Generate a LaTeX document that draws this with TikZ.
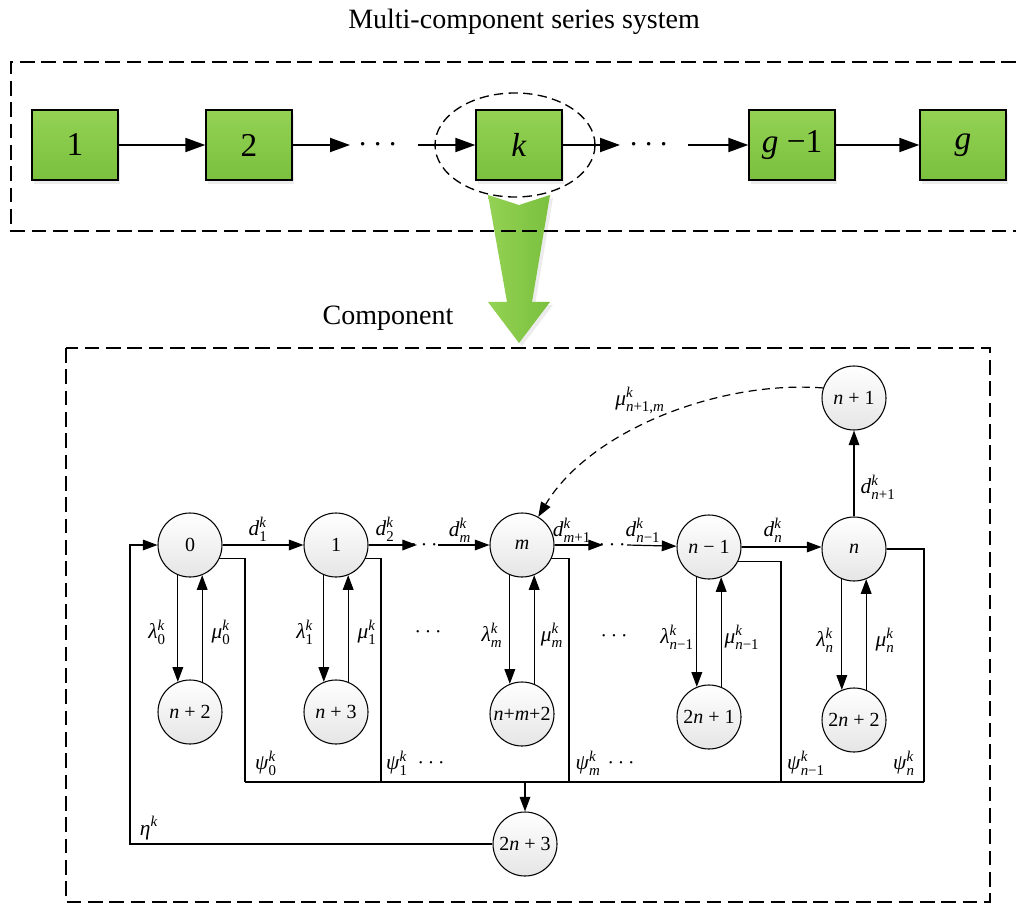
\documentclass[tikz,border=0pt]{standalone}
\usepackage{amsmath}
\usepackage{fontspec}
\setmainfont{Liberation Serif}
\usetikzlibrary{arrows.meta}

% rate label: italic symbol with superscript and subscript
\newcommand{\vlab}[3]{\textit{#1}$^{\text{\textit{#2}}}_{\text{#3}}$}

\definecolor{grtop}{RGB}{148,210,84}
\definecolor{grbot}{RGB}{122,192,62}

\begin{document}
\begin{tikzpicture}[x=0.75pt,y=-0.75pt,
  block/.style={draw,line width=1pt,minimum width=64.5pt,minimum height=52.5pt,
    top color=grtop,bottom color=grbot,font=\fontsize{25}{28}\selectfont},
  state/.style={circle,draw,line width=0.8pt,minimum size=48pt,inner sep=0pt,
    top color=white,bottom color=gray!20,font=\fontsize{15}{18}\selectfont},
  flow/.style={line width=1.5pt,-{Triangle[length=15pt,width=10.5pt]}},
  link/.style={line width=0.9pt},
  arr/.style={link,-{Triangle[length=11pt,width=8pt]}},
  lab/.style={font=\fontsize{16}{18}\selectfont,inner sep=0pt},
  title/.style={font=\fontsize{21}{24}\selectfont},
  frame/.style={line width=1.1pt,dash pattern=on 11pt off 5pt}
]
\useasboundingbox (0,0) rectangle (1016,905);

% ---------- headings ----------
\node[title] (ttl) at (524,22) {Multi-component series system};
\node[title] (comp) at (388,318) {Component};

% ---------- big green arrow ----------
\fill[gray!15] (491,198) -- (522,208) -- (553,198) -- (535,305) -- (553,305)
  -- (522,346) -- (491,305) -- (510,305) -- cycle;
\shade[left color=grtop,right color=grbot]
  (488,195) -- (519,205) -- (550,195) -- (532,302) -- (550,302)
  -- (519,343) -- (488,302) -- (507,302) -- cycle;

% ---------- series system ----------
\foreach \x in {75,249,519,792,963}
  \fill[gray!15] (\x-41,114) rectangle (\x+45,184);
\node[block] (b1) at (75,145) {1};
\node[block] (b2) at (249,145) {2};
\node[block] (bk) at (519,145) {\textit{k}};
\node[block] (bg1) at (792,145) {\textit{g} −1};
\node[block] (bg) at (963,145) {\textit{g}};

\coordinate (t1) at (350,145);
\node[font=\fontsize{24}{28}\selectfont] (dt1) at (381,145) {$\cdots$};
\coordinate (t2) at (418,145);
\coordinate (t3) at (620,145);
\node[font=\fontsize{24}{28}\selectfont] (dt2) at (652,145) {$\cdots$};
\coordinate (t4) at (688,145);

\draw[flow] (b1) -- (b2);
\draw[flow] (b2) -- (t1);
\draw[flow] (t2) -- (bk);
\draw[flow] (bk) -- (t3);
\draw[flow] (t4) -- (bg1);
\draw[flow] (bg1) -- (bg);

\draw[line width=1pt,dash pattern=on 7pt off 4pt] (515,145) ellipse [x radius=80,y radius=52];

% frames
\draw[frame] (1016,62) -- (11,62) -- (11,231) -- (1016,231);
\draw[frame] (66,348) rectangle (990,902);

% ---------- component states ----------
\node[state] (s0)  at (190,545) {0};
\node[state] (s1)  at (336,545) {1};
\node[state] (sm)  at (522,545) {\textit{m}};
\node[state] (sn1) at (709,547) {\textit{n} − 1};
\node[state] (sn)  at (854,549) {\textit{n}};
\node[state] (snp) at (854,398) {\textit{n} + 1};

\node[state] (f0)  at (190,712) {\textit{n} + 2};
\node[state] (f1)  at (336,712) {\textit{n} + 3};
\node[state] (fm)  at (522,714) {\textit{n}+\textit{m}+2};
\node[state] (fn1) at (709,717) {2\textit{n} + 1};
\node[state] (fn)  at (854,720) {2\textit{n} + 2};
\node[state] (sf)  at (525,844) {2\textit{n} + 3};

% degradation chain
\coordinate (r1) at (417,545);
\node[lab] (rd1) at (426,545) {$\cdots$};
\coordinate (r2) at (438,545);
\coordinate (r3) at (603,545);
\node[lab] (rd2) at (614,545) {$\cdots$};
\coordinate (r4) at (627,545);

\draw[arr] (s0) -- (s1);
\draw[arr] (s1) -- (r1);
\draw[arr] (r2) -- (sm);
\draw[arr] (sm) -- (r3);
\draw[arr] (r4) -- (sn1);
\draw[arr] (sn1.east) -- (sn1.east -| sn.west);
\draw[arr] (sn) -- (snp);

\node[lab] at (258,529) {\vlab{d}{k}{1}};
\node[lab] at (385,529) {\vlab{d}{k}{2}};
\node[lab] at (460,530) {\vlab{d}{k}{\textit{m}}};
\node[lab] at (572,530) {\vlab{d}{k}{\textit{m}+1}};
\node[lab] at (643,530) {\vlab{d}{k}{\textit{n}−1}};
\node[lab] at (773,530) {\vlab{d}{k}{\textit{n}}};
\node[lab] at (878,487) {\vlab{d}{k}{\textit{n}+1}};

% maintenance from n+1 back to m
\draw[link,dash pattern=on 6pt off 4pt,-{Triangle[length=11pt,width=8pt]}]
  (snp.162) .. controls (720,380) and (590,430) .. (sm.60);
\node[lab] at (640,400) {\vlab{μ}{k}{\textit{n}+1,\textit{m}}};

% failure / repair pairs
\foreach \u/\l in {s0/f0,s1/f1,sm/fm,sn1/fn1,sn/fn}{
  \draw[arr] (\u.-112) -- (\l.112);
  \draw[arr] (\l.68) -- (\u.-68);
}
\node[lab] at (157,632) {\vlab{λ}{k}{0}};
\node[lab] at (221,632) {\vlab{μ}{k}{0}};
\node[lab] at (305,632) {\vlab{λ}{k}{1}};
\node[lab] at (367,632) {\vlab{μ}{k}{1}};
\node[lab] at (430,632) {$\cdots$};
\node[lab] at (492,635) {\vlab{λ}{k}{\textit{m}}};
\node[lab] at (552,635) {\vlab{μ}{k}{\textit{m}}};
\node[lab] at (616,636) {$\cdots$};
\node[lab] at (677,637) {\vlab{λ}{k}{\textit{n}−1}};
\node[lab] at (742,637) {\vlab{μ}{k}{\textit{n}−1}};
\node[lab] at (825,640) {\vlab{λ}{k}{\textit{n}}};
\node[lab] at (885,640) {\vlab{μ}{k}{\textit{n}}};

% shocks to state 2n+3
\coordinate (p0) at (245,782);
\coordinate (p1) at (381,782);
\coordinate (pm) at (569,782);
\coordinate (pn1) at (781,782);
\coordinate (pn) at (924,782);
\coordinate (pj) at (525,782);
\draw[link] (s0.-25) -| (p0);
\draw[link] (s1.-25) -| (p1);
\draw[link] (sm.-25) -| (pm);
\draw[link] (sn1.-26) -| (pn1);
\draw[link] (sn.east) -| (pn);
\draw[link] (p0) -- (pn);
\draw[arr] (pj) -- (sf);

\node[lab] at (266,763) {\vlab{ψ}{k}{0}};
\node[lab] at (397,763) {\vlab{ψ}{k}{1}};
\node[lab] at (433,763) {$\cdots$};
\node[lab] at (588,763) {\vlab{ψ}{k}{\textit{m}}};
\node[lab] at (623,763) {$\cdots$};
\node[lab] at (806,763) {\vlab{ψ}{k}{\textit{n}−1}};
\node[lab] at (904,763) {\vlab{ψ}{k}{\textit{n}}};

% replacement back to state 0
\coordinate (e1) at (130,844);
\coordinate (e2) at (130,545);
\draw[arr] (sf.west) -- (e1) -- (e2) -- (s0.west);
\node[lab] at (149,828) {\textit{η}$^{\text{\textit{k}}}$};

\end{tikzpicture}
\end{document}
